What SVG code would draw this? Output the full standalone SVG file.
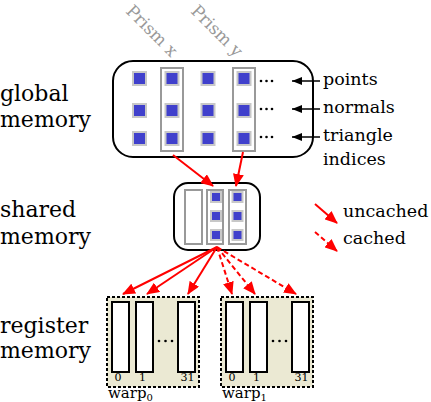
<svg xmlns="http://www.w3.org/2000/svg" width="431" height="402" viewBox="0 0 431 402">
<defs>
<marker id="ar" markerUnits="userSpaceOnUse" markerWidth="13" markerHeight="11" refX="12" refY="5.5" orient="auto"><path d="M0,0 L13,5.5 L0,11 z" fill="#ff0000"/></marker>
<marker id="ak" markerUnits="userSpaceOnUse" markerWidth="10" markerHeight="8" refX="10" refY="4" orient="auto"><path d="M0,0 L10,4 L0,8 z" fill="#000"/></marker>
</defs>
<style>
text{font-family:"DejaVu Serif","Liberation Serif",serif;fill:#000}
.big{font-size:22px}
.mid{font-size:17.5px}
.num{font-size:11px;text-anchor:middle}
.warp{font-size:15px}
.prism{font-size:17px;fill:#999}
.sq{fill:#4040cc;stroke:#c8c8c8;stroke-width:2}
.pr{fill:#fff;stroke:#999;stroke-width:2}
.box{fill:#fff;stroke:#000;stroke-width:2}
.wb{fill:#ebe9d3;stroke:#000;stroke-width:2;stroke-dasharray:3,2}
.reg{fill:#fff;stroke:#000;stroke-width:2}
.red{stroke:#ff0000;stroke-width:2;fill:none;marker-end:url(#ar)}
.dash{stroke-dasharray:5,3}
.blk{stroke:#000;stroke-width:1.5;fill:none;marker-end:url(#ak)}
.dot{fill:#000}
</style>

<g id="labels-left">
<text class="big" x="0" y="101">global</text>
<text class="big" x="0" y="127">memory</text>
<text class="big" x="0" y="217">shared</text>
<text class="big" x="0" y="244">memory</text>
<text class="big" x="0" y="333">register</text>
<text class="big" x="0" y="358">memory</text>
</g>

<g id="prism-labels">
<text class="prism" transform="translate(125,12) rotate(45)">Prism x</text>
<text class="prism" transform="translate(190,12) rotate(45)">Prism y</text>
</g>

<g id="global-memory">
<rect class="box" x="113" y="61" width="200" height="96" rx="20"/>
<rect class="pr" x="161" y="68" width="22" height="83"/>
<rect class="pr" x="233" y="68" width="22" height="83"/>
<rect class="sq" x="133" y="72" width="13" height="13"/>
<rect class="sq" x="165.5" y="72" width="13" height="13"/>
<rect class="sq" x="201.5" y="72" width="13" height="13"/>
<rect class="sq" x="237.5" y="72" width="13" height="13"/>
<rect class="sq" x="133" y="104" width="13" height="13"/>
<rect class="sq" x="165.5" y="104" width="13" height="13"/>
<rect class="sq" x="201.5" y="104" width="13" height="13"/>
<rect class="sq" x="237.5" y="104" width="13" height="13"/>
<rect class="sq" x="133" y="132" width="13" height="13"/>
<rect class="sq" x="165.5" y="132" width="13" height="13"/>
<rect class="sq" x="201.5" y="132" width="13" height="13"/>
<rect class="sq" x="237.5" y="132" width="13" height="13"/>
<circle class="dot" cx="261" cy="81" r="1.3"/><circle class="dot" cx="266.5" cy="81" r="1.3"/><circle class="dot" cx="272" cy="81" r="1.3"/>
<circle class="dot" cx="261" cy="109" r="1.3"/><circle class="dot" cx="266.5" cy="109" r="1.3"/><circle class="dot" cx="272" cy="109" r="1.3"/>
<circle class="dot" cx="261" cy="137" r="1.3"/><circle class="dot" cx="266.5" cy="137" r="1.3"/><circle class="dot" cx="272" cy="137" r="1.3"/>
</g>

<g id="labels-right">
<text class="mid" x="323" y="85">points</text>
<text class="mid" x="323" y="113">normals</text>
<text class="mid" x="323" y="141">triangle</text>
<text class="mid" x="323" y="165">indices</text>
</g>

<g id="shared-memory">
<rect class="box" x="174" y="183" width="86" height="67" rx="14"/>
<rect class="pr" x="185" y="190" width="17" height="54"/>
<rect class="pr" x="207" y="190" width="16" height="54"/>
<rect class="pr" x="229" y="190" width="17" height="54"/>
<rect class="sq" x="211" y="192" width="10" height="10"/>
<rect class="sq" x="211" y="211" width="10" height="10"/>
<rect class="sq" x="211" y="230" width="10" height="10"/>
<rect class="sq" x="232.5" y="192" width="10" height="10"/>
<rect class="sq" x="232.5" y="211" width="10" height="10"/>
<rect class="sq" x="232.5" y="230" width="10" height="10"/>
</g>

<g id="warp0">
<rect class="wb" x="107" y="297" width="92" height="90"/>
<rect class="reg" x="112" y="302" width="17" height="70"/>
<rect class="reg" x="136" y="302" width="17" height="70"/>
<rect class="reg" x="178" y="302" width="17" height="70"/>
<circle class="dot" cx="159" cy="341" r="1.3"/><circle class="dot" cx="165.5" cy="341" r="1.3"/><circle class="dot" cx="172" cy="341" r="1.3"/>
<text class="num" x="118" y="381">0</text>
<text class="num" x="142.5" y="381">1</text>
<text class="num" x="187.5" y="381">31</text>
<text class="warp" x="108" y="398">warp<tspan font-size="10" dy="3">0</tspan></text>
</g>

<g id="warp1">
<rect class="wb" x="221" y="297" width="92" height="90"/>
<rect class="reg" x="226" y="302" width="17" height="70"/>
<rect class="reg" x="250" y="302" width="17" height="70"/>
<rect class="reg" x="292" y="302" width="17" height="70"/>
<circle class="dot" cx="273" cy="341" r="1.3"/><circle class="dot" cx="279.5" cy="341" r="1.3"/><circle class="dot" cx="286" cy="341" r="1.3"/>
<text class="num" x="232" y="381">0</text>
<text class="num" x="256.5" y="381">1</text>
<text class="num" x="301.5" y="381">31</text>
<text class="warp" x="222" y="398">warp<tspan font-size="10" dy="3">1</tspan></text>
</g>

<g id="legend">
<text class="mid" x="343" y="217">uncached</text>
<text class="mid" x="343" y="244">cached</text>
</g>

<g id="connectors">
<line class="blk" x1="320" y1="81" x2="292" y2="81"/>
<line class="blk" x1="320" y1="109" x2="292" y2="109"/>
<line class="blk" x1="320" y1="137" x2="292" y2="137"/>
<line class="red" x1="173" y1="155" x2="213" y2="186"/>
<line class="red" x1="243" y1="152" x2="236" y2="186"/>
<line class="red" x1="217" y1="247" x2="123" y2="294"/>
<line class="red" x1="217" y1="247" x2="147" y2="294"/>
<line class="red" x1="217" y1="247" x2="188" y2="294"/>
<line class="red dash" x1="217" y1="247" x2="232" y2="294"/>
<line class="red dash" x1="217" y1="247" x2="255" y2="294"/>
<line class="red dash" x1="217" y1="247" x2="296" y2="294"/>
<line class="red" x1="315" y1="204" x2="337" y2="223"/>
<line class="red dash" x1="315" y1="232" x2="337" y2="251"/>
</g>
</svg>
